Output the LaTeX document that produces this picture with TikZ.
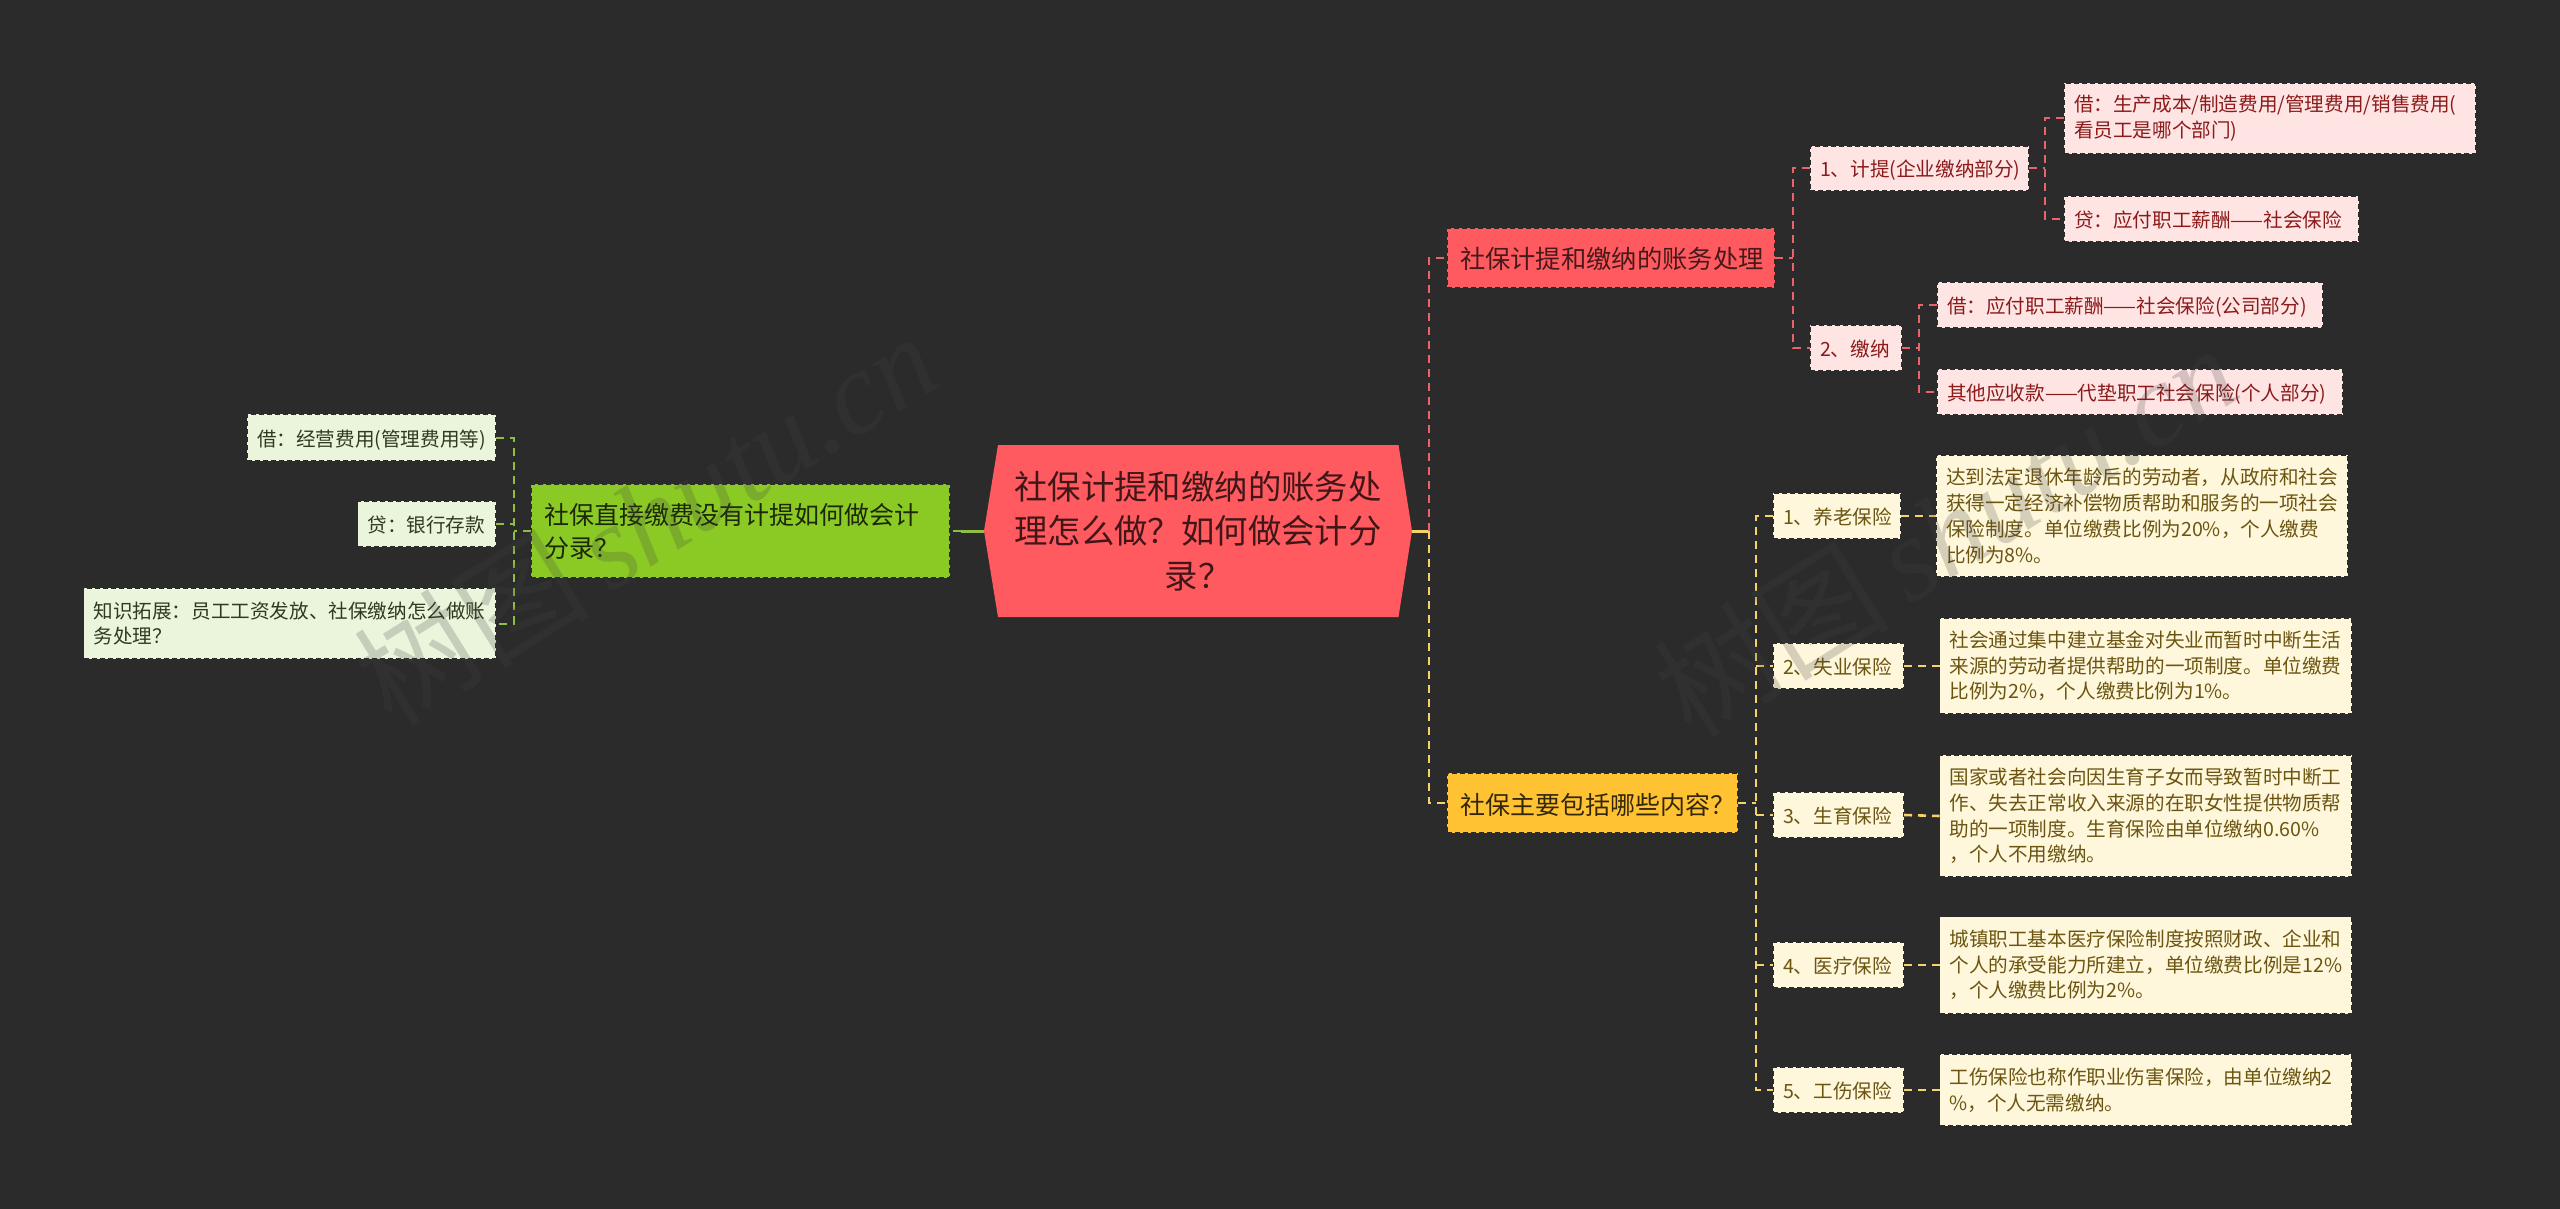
\documentclass[tikz,border=0pt]{standalone}
\usepackage{fontspec}
\setmainfont{Noto Sans CJK SC}
\newfontfamily\wmlat{Liberation Serif}
\definecolor{bgc}{HTML}{2B2B2B}
\definecolor{redc}{HTML}{FF5A5F}
\definecolor{greenc}{HTML}{8BC925}
\definecolor{yelc}{HTML}{FFC233}
\definecolor{pinkl}{HTML}{FFE4E4}
\definecolor{greenl}{HTML}{EAF5DC}
\definecolor{yell}{HTML}{FFF7DC}
\definecolor{redt}{HTML}{8B1A1A}
\definecolor{greent}{HTML}{2F3A1F}
\definecolor{yelt}{HTML}{6B5510}
\definecolor{redl}{HTML}{E8646A}
\definecolor{yelline}{HTML}{F5D36A}
\definecolor{grnline}{HTML}{8FBF40}
\definecolor{wmc}{HTML}{444444}
\tikzset{
  box/.style={rectangle,anchor=west,outer sep=0pt,inner ysep=0pt,inner xsep=10pt,align=left,
    draw=bgc,line width=1.6pt,dash pattern=on 5pt off 3pt},
  small/.style={box,font=\fontsize{19.6}{25.7}\selectfont},
  bigbox/.style={box,inner xsep=13pt,font=\fontsize{25}{33}\selectfont},
  oneline/.style={text height=17pt,text depth=0pt},
  onebig/.style={text height=22pt,text depth=0pt},
  pinkbox/.style={small,fill=pinkl,text=redt},
  grnbox/.style={small,fill=greenl,text=greent},
  yelbox/.style={small,fill=yell,text=yelt},
  link/.style={line width=2pt,dash pattern=on 8pt off 6pt},
  rlink/.style={link,draw=redl},
  ylink/.style={link,draw=yelline},
  glink/.style={link,draw=grnline},
  heavy/.style={line width=2.6pt},
  solidstub/.style={line width=3pt},
  wmark/.style={text=wmc,opacity=.22,text opacity=.22,font=\fontsize{118}{118}\selectfont,rotate=32,inner sep=0pt}
}
\begin{document}
\begin{tikzpicture}[x=1pt,y=-1pt]
\useasboundingbox (0,0) rectangle (2560,1209);
\fill[bgc] (0,0) rectangle (2560,1209);

% junction columns
\coordinate (T) at (1429,0);
\coordinate (Ja) at (1793,0);
\coordinate (Ja1) at (2045,0);
\coordinate (Ja2) at (1919,0);
\coordinate (Jb) at (1756,0);
\coordinate (Jl) at (513.5,0);
\coordinate (gs) at (961,531);

% root
\fill[redc] (984,531) -- (998,445) -- (1398.5,445) -- (1412,531) -- (1398.5,617) -- (998,617) -- cycle;
\node[rectangle,outer sep=0pt,inner sep=0pt,minimum width=428pt,minimum height=172pt,align=center,text=black!75!redc,
  font=\fontsize{33.4}{44.7}\selectfont] (root) at (1198,531)
  {社保计提和缴纳的账务处\\理怎么做？如何做会计分\\录？};

% right top branch
\node[bigbox,onebig,fill=redc,text=black!72!redc,minimum height=60pt,text width=302pt,font=\fontsize{25.3}{33}\selectfont] (A1) at (1447,258) {社保计提和缴纳的账务处理};
\node[pinkbox,oneline,minimum height=45pt,text width=198.6pt] (a1) at (1810,168.5) {1、计提(企业缴纳部分)};
\node[pinkbox,minimum height=71pt,text width=392pt] (a11) at (2064,118.5) {借：生产成本/制造费用/管理费用/销售费用(\\看员工是哪个部门)};
\node[pinkbox,oneline,minimum height=46pt,text width=275pt] (a12) at (2064,219) {贷：应付职工薪酬——社会保险};
\node[pinkbox,oneline,minimum height=46pt,text width=72pt] (a2) at (1810,348) {2、缴纳};
\node[pinkbox,oneline,minimum height=46pt,text width=366pt] (a21) at (1937,305) {借：应付职工薪酬——社会保险(公司部分)};
\node[pinkbox,oneline,minimum height=46pt,text width=386pt] (a22) at (1937,392) {其他应收款——代垫职工社会保险(个人部分)};

% right bottom branch
\node[bigbox,onebig,fill=yelc,text=black!80!yelc,minimum height=60pt,text width=265pt] (B1) at (1447,803) {社保主要包括哪些内容？};
\node[yelbox,oneline,minimum height=46pt,text width=108pt] (b1) at (1773,516) {1、养老保险};
\node[yelbox,oneline,minimum height=46pt,text width=111pt] (b2) at (1773,666) {2、失业保险};
\node[yelbox,oneline,minimum height=46pt,text width=111pt] (b3) at (1773,815) {3、生育保险};
\node[yelbox,oneline,minimum height=46pt,text width=111pt] (b4) at (1773,965) {4、医疗保险};
\node[yelbox,oneline,minimum height=46pt,text width=111pt] (b5) at (1773,1090) {5、工伤保险};
\node[yelbox,minimum height=122pt,text width=392pt] (t1) at (1936,516) {达到法定退休年龄后的劳动者，从政府和社会\\获得一定经济补偿物质帮助和服务的一项社会\\保险制度。单位缴费比例为20\%，个人缴费\\比例为8\%。};
\node[yelbox,minimum height=96pt,text width=392.5pt] (t2) at (1939.5,666) {社会通过集中建立基金对失业而暂时中断生活\\来源的劳动者提供帮助的一项制度。单位缴费\\比例为2\%，个人缴费比例为1\%。};
\node[yelbox,minimum height=122pt,text width=392.5pt] (t3) at (1939.5,816) {国家或者社会向因生育子女而导致暂时中断工\\作、失去正常收入来源的在职女性提供物质帮\\助的一项制度。生育保险由单位缴纳0.60\%\\，个人不用缴纳。};
\node[yelbox,minimum height=97pt,text width=392.5pt] (t4) at (1939.5,965) {城镇职工基本医疗保险制度按照财政、企业和\\个人的承受能力所建立，单位缴费比例是12\%\\，个人缴费比例为2\%。};
\node[yelbox,minimum height=72pt,text width=392.5pt] (t5) at (1939.5,1090) {工伤保险也称作职业伤害保险，由单位缴纳2\\\%，个人无需缴纳。};

% left branch
\node[bigbox,fill=greenc,text=black!80!greenc,minimum height=94pt,text width=393pt] (L1) at (531,531) {社保直接缴费没有计提如何做会计\\分录？};
\node[grnbox,oneline,minimum height=47pt,text width=229pt] (l1) at (247,437.5) {借：经营费用(管理费用等)};
\node[grnbox,oneline,minimum height=46pt,text width=118.5pt] (l2) at (357.5,524) {贷：银行存款};
\node[grnbox,minimum height=71pt,text width=392.5pt] (l3) at (83.5,623.5) {知识拓展：员工工资发放、社保缴纳怎么做账\\务处理？};

% connectors: root
\draw[solidstub,draw=yelline] (root.east) -- (T |- root.east);
\draw[rlink] (T |- root.east) |- (A1.west);
\draw[ylink] (T |- root.east) |- (B1.west);
\draw[solidstub,draw=grnline] (root.west) -- (gs);
\draw[glink] (gs) -- (L1.east);

% connectors: red side
\draw[rlink] (A1.east) -- (Ja |- A1.east);
\draw[rlink] (a1.west) -- (Ja |- a1.west) |- (a2.west);
\draw[rlink] (a1.east) -- (Ja1 |- a1.east);
\draw[rlink] (a11.west) -- (Ja1 |- a11.west) |- (a12.west);
\draw[rlink] (a2.east) -- (Ja2 |- a2.east);
\draw[rlink] (a21.west) -- (Ja2 |- a21.west) |- (a22.west);

% connectors: yellow side
\draw[ylink] (B1.east) -- (Jb |- B1.east);
\draw[ylink] (b1.west) -- (Jb |- b1.west) |- (b5.west);
\draw[ylink] (Jb |- b2.west) -- (b2.west);
\draw[ylink] (Jb |- b3.west) -- (b3.west);
\draw[ylink] (Jb |- b4.west) -- (b4.west);
\draw[ylink,heavy] (b1.east) -- (t1.west);
\draw[ylink,heavy] (b2.east) -- (t2.west);
\draw[ylink,heavy] (b3.east) -- (t3.west);
\draw[ylink,heavy] (b4.east) -- (t4.west);
\draw[ylink,heavy] (b5.east) -- (t5.west);

% connectors: green side
\draw[glink] (L1.west) -- (Jl |- L1.west);
\draw[glink] (l1.east) -- (Jl |- l1.east) |- (l3.east);
\draw[glink] (l2.east) -- (Jl |- l2.east);

% watermarks
\node[wmark] (w1) at (645,518) {树图\,{\wmlat\itshape shutu.cn}};
\node[wmark] (w2) at (1945,530) {树图\,{\wmlat\itshape shutu.cn}};
\end{tikzpicture}
\end{document}
